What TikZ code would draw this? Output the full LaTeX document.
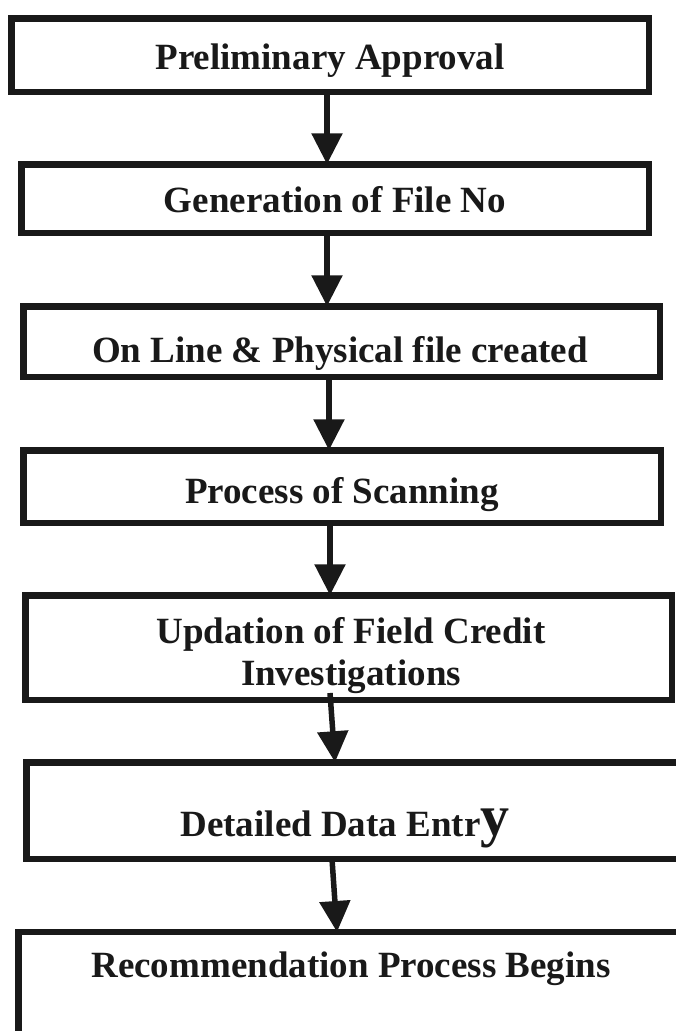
\documentclass[tikz,border=0pt]{standalone}
\usepackage{fontspec}
\setmainfont{Liberation Serif}
\usetikzlibrary{arrows.meta}
\tikzset{
  box/.style={draw=black!90, line width=6.5pt, inner sep=0pt, outer sep=0pt},
  txt/.style={inner sep=0pt, outer sep=0pt, text=black!90,
    font=\bfseries\fontsize{37}{43}\selectfont, align=center},
  flowarrow/.style={draw=black!90, line width=5.5pt,
    -{Triangle[length=31pt,width=30pt]}}
}
\begin{document}
\begin{tikzpicture}[x=1pt,y=-1pt]
\useasboundingbox (0,0) rectangle (676,1031);
\clip (0,0) rectangle (676,1031);
\fill[white] (0,0) rectangle (676,1031);

% boxes
\node[box, minimum width=637.5pt, minimum height=73.5pt] (b1) at (330,55) {};
\node[box, minimum width=627.5pt, minimum height=68.5pt] (b2) at (335,198.5) {};
\node[box, minimum width=636.5pt, minimum height=70.5pt] (b3) at (341.5,341.5) {};
\node[box, minimum width=637.5pt, minimum height=72.5pt] (b4) at (342,486.5) {};
\node[box, minimum width=646.5pt, minimum height=104.5pt] (b5) at (348.5,647.5) {};
\node[box, minimum width=690.5pt, minimum height=96.5pt] (b6) at (371.5,810.5) {};
\node[box, minimum width=701.5pt, minimum height=168pt] (b7) at (369,1016) {};

% texts
\node[txt, anchor=base] (t1) at (330,69) {Preliminary Approval};
\node[txt, anchor=base] (t2) at (335,212) {Generation of File No};
\node[txt, anchor=base] (t3) at (340,362) {On Line \& Physical file created};
\node[txt, anchor=base] (t4) at (342,503) {Process of Scanning};
\node[txt, anchor=base] (t5a) at (351,643) {Updation of Field Credit};
\node[txt, anchor=base] (t5b) at (351,685) {Investigations};
\node[txt, anchor=base] (t6) at (345,836) {Detailed Data Entr\raisebox{1pt}{\fontsize{58}{58}\selectfont y}};
\node[txt, anchor=base] (t7) at (351,977) {Recommendation Process Begins};

% arrow x positions
\coordinate (x1) at (327,0);
\coordinate (x2) at (327,0);
\coordinate (x3) at (329,0);
\coordinate (x4) at (330,0);
\coordinate (s5) at (330,693);
\coordinate (x5) at (335,0);
\coordinate (s6) at (332,859);
\coordinate (x6) at (337,0);

\draw[flowarrow] (b1.south -| x1) -- (b2.north -| x1);
\draw[flowarrow] (b2.south -| x2) -- (b3.north -| x2);
\draw[flowarrow] (b3.south -| x3) -- (b4.north -| x3);
\draw[flowarrow] (b4.south -| x4) -- (b5.north -| x4);
\draw[flowarrow] (s5) -- (b6.north -| x5);
\draw[flowarrow] (s6) -- (b7.north -| x6);
\end{tikzpicture}
\end{document}
